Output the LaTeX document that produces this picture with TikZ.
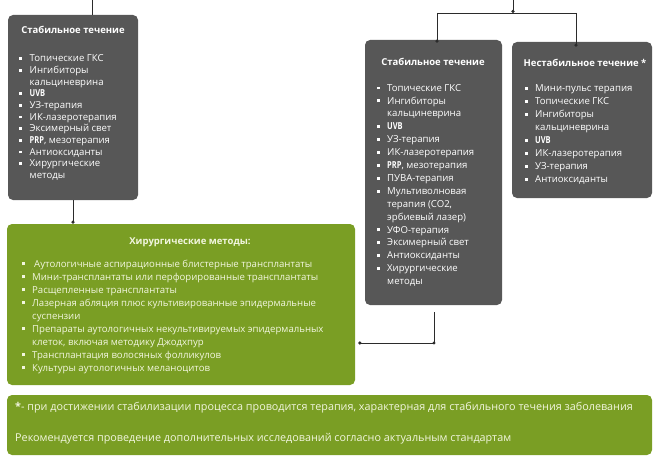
\documentclass[tikz,border=0pt]{standalone}
\usepackage{fontspec}
\setmainfont{Open Sans}
\usetikzlibrary{arrows.meta}
\definecolor{boxgray}{HTML}{575757}
\definecolor{boxgreen}{HTML}{7A9E24}
\definecolor{greentext}{HTML}{F2F6DF}
\definecolor{linecol}{HTML}{2B2B2B}
\newcommand\bl{\makebox[10.5pt][l]{\raisebox{1.8pt}{\rule{2.8pt}{2.8pt}}}}
\newcommand\ind{\hspace*{10.5pt}}
\newcommand\cnd[1]{\scalebox{0.78}[1]{\textbf{#1}}}
\tikzset{
  panel/.style={rounded corners=5pt, inner sep=0pt},
  graypanel/.style={panel, fill=boxgray},
  greenpanel/.style={panel, fill=boxgreen},
  ttl/.style={font=\fontsize{9.5}{11}\selectfont\bfseries, inner sep=0pt},
  lst/.style={align=left, inner sep=0pt, anchor=north west},
  conn/.style={draw=linecol, line width=0.8pt},
  dot/.style={-{Circle[length=3.2pt]}},
}
\begin{document}
\begin{tikzpicture}[x=1pt,y=-1pt]
\useasboundingbox (0,0) rectangle (661,460);
% panels
\node[graypanel, minimum width=130pt, minimum height=185pt] (L) at (73,107.5) {};
\node[graypanel, minimum width=137pt, minimum height=265pt] (M) at (433.5,172.5) {};
\node[graypanel, minimum width=140pt, minimum height=156pt] (R) at (582,120) {};
\node[greenpanel, minimum width=348pt, minimum height=161pt] (G) at (181,304.5) {};
\node[greenpanel, minimum width=645pt, minimum height=60pt] (B) at (329.5,425) {};

% connectors
\coordinate (ltop) at (92,0);
\draw[conn] (ltop) -- (ltop |- L.north);
\coordinate (ls) at (L.south);
\draw[conn, dot] (ls) -- (ls |- G.north);

\coordinate (ttop) at (513,0);
\coordinate (tbar) at (513,13);
\coordinate (tl) at (437,13);
\coordinate (tr) at (576,13);
\draw[conn, dot] (ttop) -- (tbar);
\draw[conn] (tl) -- (tr);
\draw[conn, dot] (tl) -- ([yshift=-3pt]tl |- M.north);
\draw[conn, dot] (tr) -- ([yshift=-5pt]tr |- R.north);

\coordinate (m1) at (434,312);
\coordinate (m2) at (434,343);
\coordinate (m3) at ([xshift=3pt]G.east |- m2);
\draw[conn, dot] (m1) -- (m2) -- (m3);
\fill[linecol] (m2) circle (1.6pt);

% left panel text
\node[ttl, text=white] (Lt) at (73,30) {Стабильное течение};
\node[lst, text=white, font=\fontsize{9.6}{11.7}\selectfont] (Ll) at (19,54.5) {%
\bl Топические ГКС\\
\bl Ингибиторы\\
\ind кальциневрина\\
\bl \cnd{UVB}\\
\bl УЗ-терапия\\
\bl ИК-лазеротерапия\\
\bl Эксимерный свет\\
\bl \cnd{PRP}, мезотерапия\\
\bl Антиоксиданты\\
\bl Хирургические\\
\ind методы};

% middle panel text
\node[ttl, text=white] (Mt) at (433,62) {Стабильное течение};
\node[lst, text=white, font=\fontsize{9.6}{12.9}\selectfont] (Ml) at (376.5,84) {%
\bl Топические ГКС\\
\bl Ингибиторы\\
\ind кальциневрина\\
\bl \cnd{UVB}\\
\bl УЗ-терапия\\
\bl ИК-лазеротерапия\\
\bl \cnd{PRP}, мезотерапия\\
\bl ПУВА-терапия\\
\bl Мультиволновая\\
\ind терапия (СО2,\\
\ind эрбиевый лазер)\\
\bl УФО-терапия\\
\bl Эксимерный свет\\
\bl Антиоксиданты\\
\bl Хирургические\\
\ind методы};

% right panel text
\node[ttl, text=white] (Rt) at (585,63) {Нестабильное течение *};
\node[lst, text=white, font=\fontsize{9.6}{13}\selectfont] (Rl) at (524.5,84.5) {%
\bl Мини-пульс терапия\\
\bl Топические ГКС\\
\bl Ингибиторы\\
\ind кальциневрина\\
\bl \cnd{UVB}\\
\bl ИК-лазеротерапия\\
\bl УЗ-терапия\\
\bl Антиоксиданты};

% green panel text
\node[ttl, text=greentext] (Gt) at (190,242) {Хирургические методы:};
\node[lst, text=greentext, font=\fontsize{9.6}{13}\selectfont] (Gl) at (21.5,259.5) {%
\bl\hspace{2pt}Аутологичные аспирационные блистерные трансплантаты\\
\bl Мини-трансплантаты или перфорированные трансплантаты\\
\bl Расщепленные трансплантаты\\
\bl Лазерная абляция плюс культивированные эпидермальные\\
\ind суспензии\\
\bl Препараты аутологичных некультивируемых эпидермальных\\
\ind клеток, включая методику Джодхпур\\
\bl Трансплантация волосяных фолликулов\\
\bl Культуры аутологичных меланоцитов};

% bottom panel text
\node[anchor=west, inner sep=0pt, text=greentext, font=\fontsize{10.8}{12}\selectfont] (B1) at (15,408) {\textbf{*}- при достижении стабилизации процесса проводится терапия, характерная для стабильного течения заболевания};
\node[anchor=west, inner sep=0pt, text=greentext, font=\fontsize{10.8}{12}\selectfont] (B2) at (15,439) {Рекомендуется проведение дополнительных исследований согласно актуальным стандартам};
\end{tikzpicture}
\end{document}
